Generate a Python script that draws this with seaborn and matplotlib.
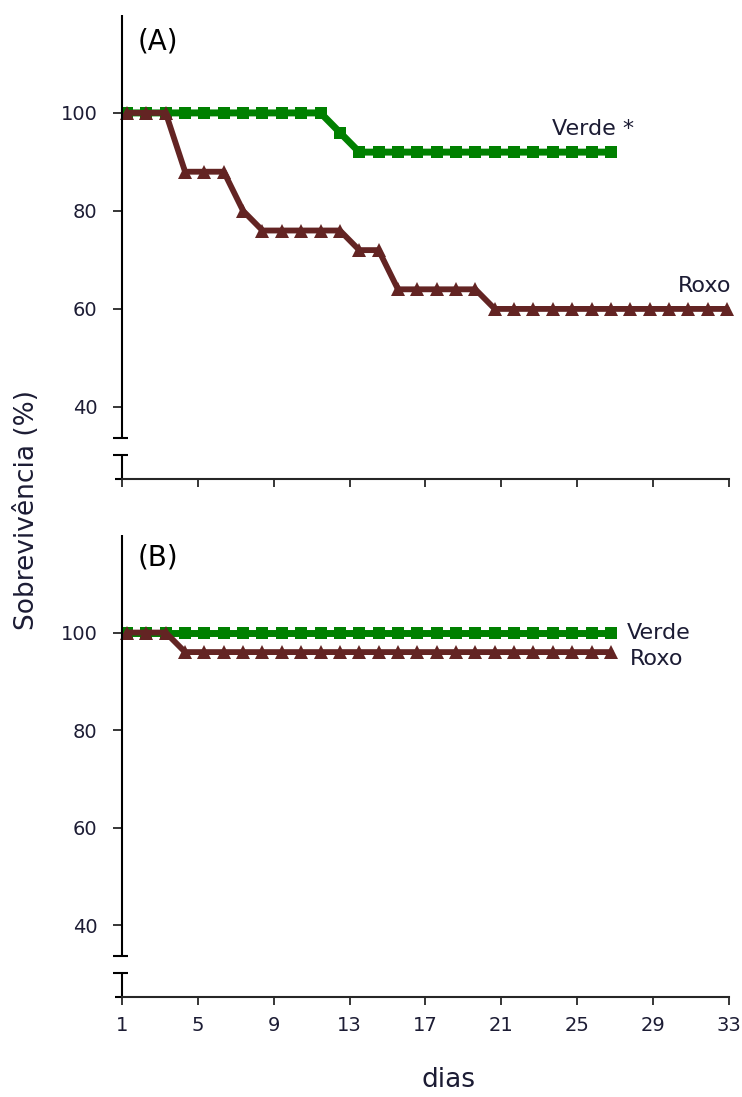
import numpy as np
import matplotlib
matplotlib.use("Agg")
import matplotlib.pyplot as plt
import matplotlib.transforms as mtransforms
import seaborn as sns

# dados (sobrevivencia %, por dia)
dias_a_roxo = np.arange(1, 33)
roxo_a = [100, 100, 100, 88, 88, 88, 80, 76, 76, 76, 76, 76, 72, 72, 64, 64,
          64, 64, 64, 60, 60, 60, 60, 60, 60, 60, 60, 60, 60, 60, 60, 60]
dias_a_verde = np.arange(1, 27)
verde_a = [100, 100, 100, 100, 100, 100, 100, 100, 100, 100, 100, 96, 92,
           92, 92, 92, 92, 92, 92, 92, 92, 92, 92, 92, 92, 92]

dias_b = np.arange(1, 27)
verde_b = [100, 100, 100, 100, 100, 100, 100, 100, 100, 100, 100, 100, 100,
           100, 100, 100, 100, 100, 100, 100, 100, 100, 100, 100, 100, 100]
roxo_b = [100, 100, 100, 96, 96, 96, 96, 96, 96, 96, 96, 96, 96, 96, 96, 96,
          96, 96, 96, 96, 96, 96, 96, 96, 96, 96]

xtick_labels = ["1", "5", "9", "13", "17", "21", "25", "29", "33"]
yticks = [40, 60, 80, 100]

VERDE = "#008000"
ROXO = "#632423"
TXT = "#1c1c34"

sns.set_style("ticks")
plt.rcParams["font.family"] = ["DejaVu Sans"]

XLIM = (0.74, 32.1)
YLIM = (25.3, 120)
BREAK_HI, BREAK_LO = 33.7, 30.2


def draw_panel(ax, dv, yv, dr, yr, show_xlabels):
    sns.lineplot(x=dv, y=yv, ax=ax, color=VERDE, marker="s", markersize=8.5,
                 markeredgewidth=0, linewidth=5, clip_on=False, legend=False)
    sns.lineplot(x=dr, y=yr, ax=ax, color=ROXO, marker="^", markersize=10,
                 markeredgewidth=0, linewidth=4.2, clip_on=False, legend=False)
    ax.set_xlim(*XLIM)
    ax.set_ylim(*YLIM)
    ax.set_xticks(np.linspace(XLIM[0], XLIM[1], len(xtick_labels)))
    if show_xlabels:
        ax.set_xticklabels(xtick_labels)
    else:
        ax.set_xticklabels([])
    ax.set_yticks(yticks)
    ax.set_xlabel("")
    ax.set_ylabel("")
    ax.tick_params(axis="y", length=6.5, width=1.3, pad=11, labelsize=14,
                   labelcolor=TXT)
    ax.tick_params(axis="x", length=6, width=1.3, pad=8, labelsize=14,
                   labelcolor=TXT)
    for s in ["top", "right", "left"]:
        ax.spines[s].set_visible(False)
    ax.spines["bottom"].set_linewidth(1.5)

    # eixo y com quebra
    tr = mtransforms.blended_transform_factory(ax.transAxes, ax.transData)
    kw = dict(transform=tr, color="black", lw=1.5, clip_on=False,
              solid_capstyle="butt")
    ax.plot([0, 0], [BREAK_HI, YLIM[1]], **kw)
    ax.plot([0, 0], [YLIM[0], BREAK_LO], **kw)
    ax.plot([-0.015, 0.01], [BREAK_HI, BREAK_HI], **kw)
    ax.plot([-0.015, 0.01], [BREAK_LO, BREAK_LO], **kw)
    ax.plot([-0.012, 0], [YLIM[0], YLIM[0]], **kw)


fig = plt.figure(figsize=(7.42, 10.97), dpi=100)
ax1 = fig.add_axes([0.1644, 0.5634, 0.818, 0.4230])
ax2 = fig.add_axes([0.1644, 0.0912, 0.818, 0.4211])

draw_panel(ax1, dias_a_verde, verde_a, dias_a_roxo, roxo_a, False)
draw_panel(ax2, dias_b, verde_b, dias_b, roxo_b, True)

ax1.text(0.025, 0.942, "(A)", transform=ax1.transAxes, fontsize=20,
         va="center", ha="left", color="black")
ax2.text(0.025, 0.952, "(B)", transform=ax2.transAxes, fontsize=20,
         va="center", ha="left", color="black")

ax1.text(22.96, 95.5, "Verde *", fontsize=16, color=TXT, ha="left",
         va="baseline")
ax1.text(32.25, 63.5, "Roxo", fontsize=16, color=TXT, ha="right",
         va="baseline")
ax2.text(26.8, 98.6, "Verde", fontsize=16, color=TXT, ha="left",
         va="baseline")
ax2.text(27.0, 93.3, "Roxo", fontsize=16, color=TXT, ha="left",
         va="baseline")

fig.text(0.036, 0.535, "Sobrevivência (%)", rotation=90, fontsize=19,
         va="center", ha="center", color=TXT)
fig.text(0.605, 0.0155, "dias", fontsize=19, va="center", ha="center",
         color=TXT)

fig.savefig("out.png", dpi=100)
